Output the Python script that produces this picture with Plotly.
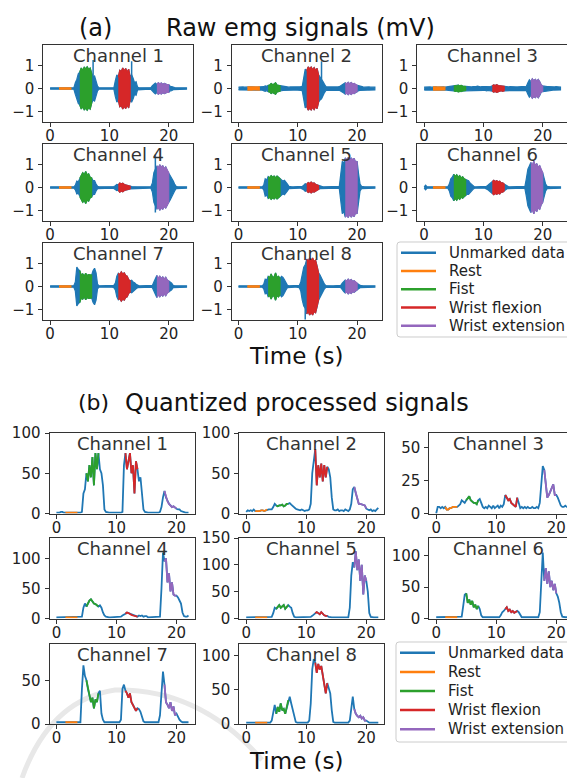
import numpy as np
import plotly.graph_objects as go

W, H = 567, 778

# sample times in seconds
t_raw = np.round(np.arange(0, 23.0001, 0.25), 2)
t_quant = np.round(np.arange(0, 22.0001, 0.25), 2)

channel_names = [f"Channel {i}" for i in range(1, 9)]
class_names = ["Unmarked data", "Rest", "Fist", "Wrist flexion", "Wrist extension"]
class_colors = ["#1f77b4", "#ff7f0e", "#2ca02c", "#d62728", "#9467bd"]
# labelled intervals (start, end) in s for Rest, Fist, Wrist flexion, Wrist extension
class_intervals = [(1.5, 3.5), (5.0, 7.0), (11.5, 13.5), (18.0, 20.0)]

# raw EMG amplitude envelopes (mV), one value every 0.25 s
raw_ch1 = [.03, .03, .03, .03, .03, .03, .03, .03, .03, .03, .03, .03, .03, .03, .03, .03,
           .03, .25, .4, .65, .72, .9, .8, .93, .86, .95, .84, .9, .65, .5, .55, .3,
           .1, .03, .03, .03, .03, .03, .03, .03, .03, .03, .03, .03, .35, .6, .5, .8,
           .75, .9, .78, .88, .72, .85, .5, .6, .45, .25, .3, .06, .03, .03, .03, .03,
           .03, .03, .03, .03, .04, .12, .18, .24, .18, .25, .2, .24, .18, .22, .2, .16,
           .17, .1, .09, .05, .04, .03, .03, .03, .03, .03, .03, .03, .03]
raw_ch2 = [.06, .07, .06, .07, .06, .07, .07, .07, .07, .07, .06, .07, .07, .06, .07, .07,
           .07, .08, .12, .1, .14, .15, .22, .17, .2, .25, .15, .14, .12, .1, .08, .07,
           .07, .07, .06, .07, .07, .07, .06, .07, .07, .07, .08, .1, .4, .85, .78, .95,
           .86, .94, .82, .92, .8, .88, .6, .5, .45, .3, .18, .08, .07, .06, .07, .07,
           .07, .06, .07, .07, .08, .12, .15, .2, .25, .2, .27, .2, .26, .2, .22, .16,
           .14, .1, .08, .07, .07, .06, .07, .07, .07, .06, .07, .07, .06]
raw_ch3 = [.06, .07, .06, .07, .07, .06, .07, .07, .07, .06, .07, .07, .07, .07, .06, .07,
           .07, .08, .1, .1, .1, .13, .11, .15, .12, .14, .11, .1, .09, .1, .08, .08,
           .07, .08, .07, .08, .1, .08, .07, .08, .08, .07, .1, .08, .08, .1, .12, .16,
           .13, .17, .13, .12, .1, .12, .1, .09, .08, .07, .08, .07, .07, .08, .07, .07,
           .07, .08, .07, .08, .08, .1, .25, .38, .3, .42, .34, .4, .32, .4, .3, .15,
           .12, .1, .09, .08, .08, .07, .08, .07, .07, .08, .07, .07, .06]
raw_ch4 = [.03, .03, .03, .03, .03, .03, .03, .03, .03, .03, .03, .03, .03, .03, .03, .03,
           .03, .1, .28, .25, .4, .5, .65, .55, .7, .55, .6, .45, .42, .3, .3, .15,
           .05, .03, .03, .03, .03, .03, .03, .03, .03, .03, .03, .04, .08, .14, .12, .2,
           .15, .19, .13, .12, .1, .08, .06, .04, .03, .03, .03, .03, .03, .03, .03, .03,
           .03, .03, .03, .03, .03, .2, .65, .8, .95, .85, 1.0, .9, .95, .82, .9, .75,
           .65, .55, .45, .3, .15, .05, .03, .03, .03, .03, .03, .03, .03]
raw_ch5 = [.03, .03, .03, .03, .03, .03, .03, .03, .03, .03, .03, .03, .03, .03, .03, .03,
           .03, .1, .38, .33, .48, .42, .52, .45, .5, .42, .5, .45, .38, .35, .28, .32,
           .25, .15, .05, .03, .03, .03, .03, .03, .03, .03, .03, .05, .1, .17, .14, .22,
           .18, .24, .18, .2, .14, .12, .08, .05, .03, .03, .03, .03, .03, .03, .03, .03,
           .03, .03, .03, .03, .05, .6, 1.15, 1.05, 1.3, 1.2, 1.32, 1.15, 1.3, 1.2, 1.28, 1.1,
           1.15, .6, .15, .05, .03, .03, .03, .03, .03, .03, .03, .03, .03]
raw_ch6 = [.03, .1, .03, .03, .03, .03, .03, .03, .03, .03, .03, .03, .03, .03, .03, .03,
           .03, .15, .38, .45, .58, .48, .56, .45, .52, .42, .47, .38, .35, .3, .3, .2,
           .15, .08, .03, .03, .03, .03, .03, .03, .03, .03, .05, .1, .15, .22, .26, .32,
           .26, .3, .25, .28, .2, .2, .15, .1, .05, .03, .03, .03, .03, .03, .03, .03,
           .03, .03, .03, .03, .05, .4, .8, .95, 1.1, .95, 1.15, .95, 1.05, .88, .95, .75,
           .65, .4, .15, .05, .03, .03, .03, .03, .03, .03, .03, .03, .03]
raw_ch7 = [.03, .03, .03, .03, .03, .03, .03, .03, .03, .03, .03, .03, .03, .03, .03, .03,
           .03, .2, .85, .75, .7, .5, .55, .45, .58, .48, .52, .5, .5, .7, .8, .6,
           .1, .03, .03, .03, .03, .03, .03, .03, .03, .03, .03, .05, .15, .45, .58, .52,
           .64, .55, .6, .48, .45, .3, .25, .28, .2, .17, .1, .05, .03, .03, .03, .03,
           .03, .03, .03, .03, .03, .05, .2, .32, .48, .36, .45, .35, .42, .32, .4, .28,
           .25, .2, .15, .05, .03, .03, .03, .03, .03, .03, .03, .03, .03]
raw_ch8 = [.03, .03, .03, .03, .03, .03, .03, .03, .03, .03, .03, .03, .03, .03, .03, .03,
           .03, .1, .32, .28, .45, .38, .55, .4, .42, .6, .4, .45, .35, .45, .4, .3,
           .15, .05, .03, .03, .03, .03, .03, .03, .03, .05, .2, .6, .85, .95, 1.2, 1.1,
           1.25, 1.15, 1.25, 1.1, 1.15, .9, .6, .5, .35, .22, .1, .04, .03, .03, .03, .03,
           .03, .03, .03, .03, .03, .05, .15, .22, .28, .24, .32, .25, .3, .22, .25, .18,
           .15, .1, .05, .03, .03, .03, .03, .03, .03, .03, .03, .03, .03]
raw_envelopes = [raw_ch1, raw_ch2, raw_ch3, raw_ch4, raw_ch5, raw_ch6, raw_ch7, raw_ch8]

# isolated raw spikes (time s, value mV)
raw_spikes = [[(7.25, 1.25), (13.75, 1.2)], [(14.0, 1.2)], [], [(17.75, 1.45), (17.75, -1.1)],
              [], [], [], [(11.25, -1.45)]]

# quantized processed signals, one value every 0.25 s
quant_ch1 = [1, 1, 1, 2, 2, 1, 1, 1, 1, 1, 1, 1, 1, 1, 1, 1,
             1, 2, 25, 30, 50, 40, 60, 45, 70, 35, 75, 55, 75, 55, 50, 35,
             5, 2, 1, 1, 1, 1, 1, 1, 1, 1, 1, 1, 2, 60, 75, 55,
             65, 75, 50, 60, 25, 65, 55, 40, 45, 20, 5, 2, 1, 1, 1, 1,
             1, 1, 1, 1, 1, 2, 8, 20, 28, 20, 15, 12, 10, 8, 9, 7,
             6, 5, 5, 3, 2, 2, 1, 1, 1]
quant_ch2 = [2, 4, 3, 4, 3, 5, 3, 3, 3, 3, 4, 4, 3, 4, 5, 5,
             5, 5, 8, 12, 10, 9, 10, 10, 11, 9, 10, 12, 12, 13, 11, 9,
             8, 6, 5, 4, 4, 5, 4, 3, 4, 4, 5, 12, 50, 68, 80, 35,
             60, 45, 62, 40, 60, 45, 58, 55, 45, 20, 5, 4, 4, 5, 3, 4,
             4, 3, 5, 4, 3, 5, 12, 30, 33, 25, 18, 12, 12, 11, 11, 10,
             6, 5, 4, 5, 3, 4, 3, 5, 7]
quant_ch3 = [0, 5, 5, 4, 5, 4, 5, 3, 3, 4, 4, 5, 5, 5, 5, 6,
             7, 10, 9, 8, 10, 12, 13, 10, 9, 8, 8, 7, 10, 11, 8, 5,
             4, 5, 4, 6, 5, 4, 6, 4, 5, 6, 4, 6, 5, 7, 14, 12,
             10, 11, 8, 7, 6, 5, 12, 8, 4, 5, 4, 5, 4, 5, 4, 4,
             5, 4, 4, 5, 4, 8, 20, 36, 33, 20, 12, 14, 17, 20, 22, 14,
             14, 12, 9, 6, 5, 5, 6, 5, 5]
quant_ch4 = [2, 2, 2, 2, 2, 2, 2, 2, 2, 2, 2, 2, 2, 2, 2, 2,
             2, 3, 18, 25, 20, 25, 30, 32, 28, 25, 24, 22, 20, 22, 18, 10,
             5, 3, 2, 2, 2, 2, 2, 2, 2, 2, 2, 3, 5, 6, 8, 10,
             9, 7, 6, 5, 4, 3, 3, 5, 4, 5, 3, 4, 4, 2, 2, 2,
             2, 2, 2, 2, 2, 3, 50, 110, 95, 100, 60, 75, 45, 60, 40, 38,
             38, 35, 30, 25, 10, 4, 3, 3, 5]
quant_ch5 = [2, 2, 2, 2, 2, 2, 2, 2, 2, 2, 2, 2, 2, 2, 2, 2,
             2, 3, 10, 20, 18, 22, 25, 20, 22, 25, 18, 22, 25, 22, 20, 10,
             3, 2, 2, 2, 2, 2, 2, 2, 2, 2, 2, 3, 5, 8, 10, 12,
             10, 8, 12, 8, 6, 5, 5, 3, 2, 2, 2, 2, 2, 2, 2, 2,
             2, 2, 2, 2, 2, 20, 80, 105, 95, 125, 90, 110, 70, 100, 45, 80,
             70, 50, 10, 3, 2, 2, 2, 2, 2]
quant_ch6 = [2, 2, 2, 2, 2, 2, 2, 2, 2, 2, 2, 2, 2, 2, 2, 2,
             2, 3, 20, 38, 40, 25, 30, 22, 28, 18, 22, 15, 20, 15, 5, 2,
             2, 2, 2, 2, 2, 2, 2, 2, 2, 2, 2, 5, 10, 12, 15, 18,
             12, 14, 10, 12, 9, 10, 12, 10, 5, 2, 2, 2, 2, 2, 2, 2,
             2, 2, 2, 2, 2, 10, 60, 105, 60, 80, 55, 75, 50, 60, 45, 55,
             40, 35, 25, 10, 3, 2, 2, 2, 2]
quant_ch7 = [2, 2, 2, 2, 2, 2, 2, 2, 2, 2, 2, 2, 2, 2, 2, 2,
             2, 40, 67, 55, 50, 40, 32, 25, 30, 18, 28, 25, 35, 38, 12, 5,
             2, 2, 2, 2, 2, 2, 2, 2, 2, 2, 2, 5, 40, 45, 38, 35,
             30, 35, 25, 22, 18, 15, 18, 17, 14, 8, 3, 2, 2, 2, 2, 2,
             2, 2, 2, 2, 2, 10, 35, 60, 45, 25, 22, 18, 25, 15, 20, 10,
             12, 8, 5, 3, 2, 2, 2, 2, 2]
quant_ch8 = [2, 2, 2, 2, 2, 2, 2, 2, 2, 2, 2, 2, 2, 2, 2, 2,
             2, 5, 20, 28, 15, 25, 18, 30, 20, 22, 15, 25, 35, 40, 30, 20,
             10, 3, 2, 2, 2, 2, 2, 2, 2, 2, 5, 30, 80, 95, 90, 75,
             88, 80, 85, 70, 55, 45, 60, 50, 45, 20, 3, 2, 2, 2, 2, 2,
             2, 2, 2, 2, 2, 5, 25, 40, 22, 15, 12, 10, 12, 8, 10, 5,
             5, 3, 2, 2, 2, 2, 2, 2, 2]
quant_signals = [quant_ch1, quant_ch2, quant_ch3, quant_ch4, quant_ch5, quant_ch6, quant_ch7, quant_ch8]
quant_ylim_top = [100, 100, 61, 134, 150, 128, 92, 118]
quant_yticks = [[0, 50, 100], [0, 50, 100], [0, 25, 50], [0, 50, 100],
                [0, 50, 100, 150], [0, 50, 100], [0, 50], [0, 50, 100]]

# ---- page geometry (pixels) ----
RAW_COLS, RAW_ROWS, RAW_W, RAW_H = [43.3, 231.7, 417.3], [45, 144, 243], 150, 77
Q_COLS, Q_ROWS, Q_W, Q_H = [49.5, 239.3, 429.3], [433, 538, 643.5], 145, 80.5
RAW_XR, Q_XR = (-1.15, 24.15), (-1.15, 23.0)
RAW_YR = (-1.47, 1.91)

AXC = "#333333"
TXT = "#222222"
FONT = "DejaVu Sans"
TICKFONT = dict(family=FONT, size=15, color=TXT)


def px2x(x):
    return x / W


def px2y(y):
    return 1 - y / H


def ax_names(n):
    return ("x" if n == 1 else f"x{n}"), ("y" if n == 1 else f"y{n}")


def axis_key(prefix, n):
    return prefix if n == 1 else f"{prefix}{n}"


def x_axis(n, left, width, xr):
    right = left + width
    r0, r1 = xr
    if right > W:  # clip the last column at the page edge, keep the scale
        r1 = r0 + (r1 - r0) * (W - left) / width
        right = W
    return dict(domain=[px2x(left), px2x(right)], range=[r0, r1], tickvals=[0, 10, 20],
                anchor=ax_names(n)[1], ticklabelstandoff=-4,
                ticks="outside", ticklen=4, tickwidth=1, tickcolor=AXC,
                showline=True, linecolor=AXC, linewidth=1, mirror=True,
                showgrid=False, zeroline=False, tickfont=TICKFONT)


def y_axis(n, top, height, yr, tv):
    return dict(domain=[px2y(top + height), px2y(top)], range=list(yr), tickvals=tv,
                anchor=ax_names(n)[0], ticklabelstandoff=1,
                ticks="outside", ticklen=4, tickwidth=1, tickcolor=AXC,
                showline=True, linecolor=AXC, linewidth=1, mirror=True,
                showgrid=False, zeroline=False, tickfont=TICKFONT)


def poly(t, env):
    t = np.asarray(t)
    env = np.asarray(env)
    return np.concatenate([t, t[::-1]]), np.concatenate([env, -env[::-1]])


fig = go.Figure()
layout = {}
annotations = []
shapes = []


def channel_title(k, xa, ya):
    annotations.append(dict(text=channel_names[k], xref=f"{xa} domain", yref=f"{ya} domain",
                            x=0.5, y=1.0, yanchor="top", yshift=2, showarrow=False,
                            font=dict(family=FONT, size=18, color="#333333")))


# ---- (a) raw EMG ----
for k in range(8):
    n = k + 1
    xa, ya = ax_names(n)
    r, c = divmod(k, 3)
    layout[axis_key("xaxis", n)] = x_axis(n, RAW_COLS[c], RAW_W, RAW_XR)
    layout[axis_key("yaxis", n)] = y_axis(n, RAW_ROWS[r], RAW_H, RAW_YR, [-1, 0, 1])
    env = np.asarray(raw_envelopes[k])
    px_, py_ = poly(t_raw, env)
    fig.add_trace(go.Scatter(x=px_, y=py_, fill="toself", fillcolor=class_colors[0], mode="lines",
                             line=dict(color=class_colors[0], width=1.2), showlegend=False,
                             hoverinfo="skip", xaxis=xa, yaxis=ya))
    if raw_spikes[k]:
        sx, sy = [], []
        for ts, vs in raw_spikes[k]:
            sx += [ts, ts, None]
            sy += [0, vs, None]
        fig.add_trace(go.Scatter(x=sx, y=sy, mode="lines", line=dict(color=class_colors[0], width=1.5),
                                 showlegend=False, hoverinfo="skip", xaxis=xa, yaxis=ya))
    for ci, (a, b) in enumerate(class_intervals):
        m = (t_raw >= a - 1e-9) & (t_raw <= b + 1e-9)
        px_, py_ = poly(t_raw[m], env[m])
        fig.add_trace(go.Scatter(x=px_, y=py_, fill="toself", fillcolor=class_colors[ci + 1], mode="lines",
                                 line=dict(color=class_colors[ci + 1], width=1.2), showlegend=False,
                                 hoverinfo="skip", xaxis=xa, yaxis=ya))
    channel_title(k, xa, ya)

# ---- (b) quantized signals ----
for k in range(8):
    n = k + 9
    xa, ya = ax_names(n)
    r, c = divmod(k, 3)
    layout[axis_key("xaxis", n)] = x_axis(n, Q_COLS[c], Q_W, Q_XR)
    layout[axis_key("yaxis", n)] = y_axis(n, Q_ROWS[r], Q_H, (0, quant_ylim_top[k]), quant_yticks[k])
    sig = np.asarray(quant_signals[k], dtype=float)
    fig.add_trace(go.Scatter(x=t_quant, y=sig, mode="lines", line=dict(color=class_colors[0], width=1.8),
                             showlegend=False, hoverinfo="skip", xaxis=xa, yaxis=ya))
    for ci, (a, b) in enumerate(class_intervals):
        m = (t_quant >= a - 1e-9) & (t_quant <= b + 1e-9)
        fig.add_trace(go.Scatter(x=t_quant[m], y=sig[m], mode="lines",
                                 line=dict(color=class_colors[ci + 1], width=1.8),
                                 showlegend=False, hoverinfo="skip", xaxis=xa, yaxis=ya))
    channel_title(k, xa, ya)


# ---- legends (one per panel), drawn as framed boxes ----
def rounded_box(x0, y0, x1, y1, rad=3):
    X = lambda v: f"{px2x(v):.5f}"
    Y = lambda v: f"{px2y(v):.5f}"
    return (f"M {X(x0 + rad)},{Y(y0)} L {X(x1 - rad)},{Y(y0)} Q {X(x1)},{Y(y0)} {X(x1)},{Y(y0 + rad)} "
            f"L {X(x1)},{Y(y1 - rad)} Q {X(x1)},{Y(y1)} {X(x1 - rad)},{Y(y1)} "
            f"L {X(x0 + rad)},{Y(y1)} Q {X(x0)},{Y(y1)} {X(x0)},{Y(y1 - rad)} "
            f"L {X(x0)},{Y(y0 + rad)} Q {X(x0)},{Y(y0)} {X(x0 + rad)},{Y(y0)} Z")


def legend_box(left, top, bottom, first, step):
    shapes.append(dict(type="path", xref="paper", yref="paper",
                       path=rounded_box(left, top, W + 12, bottom),
                       fillcolor="rgba(255,255,255,0.9)", line=dict(color="#cccccc", width=1), layer="above"))
    for i, (name, col) in enumerate(zip(class_names, class_colors)):
        yy = first + i * step
        shapes.append(dict(type="line", xref="paper", yref="paper", x0=px2x(left + 4), x1=px2x(left + 39),
                           y0=px2y(yy), y1=px2y(yy), line=dict(color=col, width=2.5), layer="above"))
        annotations.append(dict(text=name, xref="paper", yref="paper", x=px2x(left + 50), y=px2y(yy),
                                xanchor="left", yanchor="middle", showarrow=False,
                                font=dict(family=FONT, size=15, color=TXT)))


legend_box(397, 242, 337, 252.8, 18.25)
legend_box(396, 642, 742, 652.8, 19.1)

# faint background arc in the lower left
shapes.append(dict(type="path", xref="paper", yref="paper", layer="below",
                   path=(f"M {px2x(22)},{px2y(778)} Q {px2x(50)},{px2y(700)} {px2x(115)},{px2y(690)} "
                         f"Q {px2x(200)},{px2y(688)} {px2x(262)},{px2y(760)}"),
                   line=dict(color="#e8e8e8", width=5)))

# ---- panel titles and shared x labels ----
big = dict(family=FONT, color="#111111")
for txt, x, y, size in (("(a)", 95, 28, 24), ("Raw emg signals (mV)", 300, 28, 24),
                        ("Time (s)", 296, 356, 23),
                        ("(b)", 93, 403, 22), ("Quantized processed signals", 297, 403, 24),
                        ("Time (s)", 296, 761, 23)):
    annotations.append(dict(text=txt, xref="paper", yref="paper", x=px2x(x), y=px2y(y),
                            xanchor="center", yanchor="middle", showarrow=False,
                            font=dict(size=size, **big)))

fig.update_layout(width=W, height=H, margin=dict(l=0, r=0, t=0, b=0, autoexpand=False),
                  paper_bgcolor="white", plot_bgcolor="white", showlegend=False,
                  annotations=annotations, shapes=shapes, **layout)

fig.write_html("out.html")
